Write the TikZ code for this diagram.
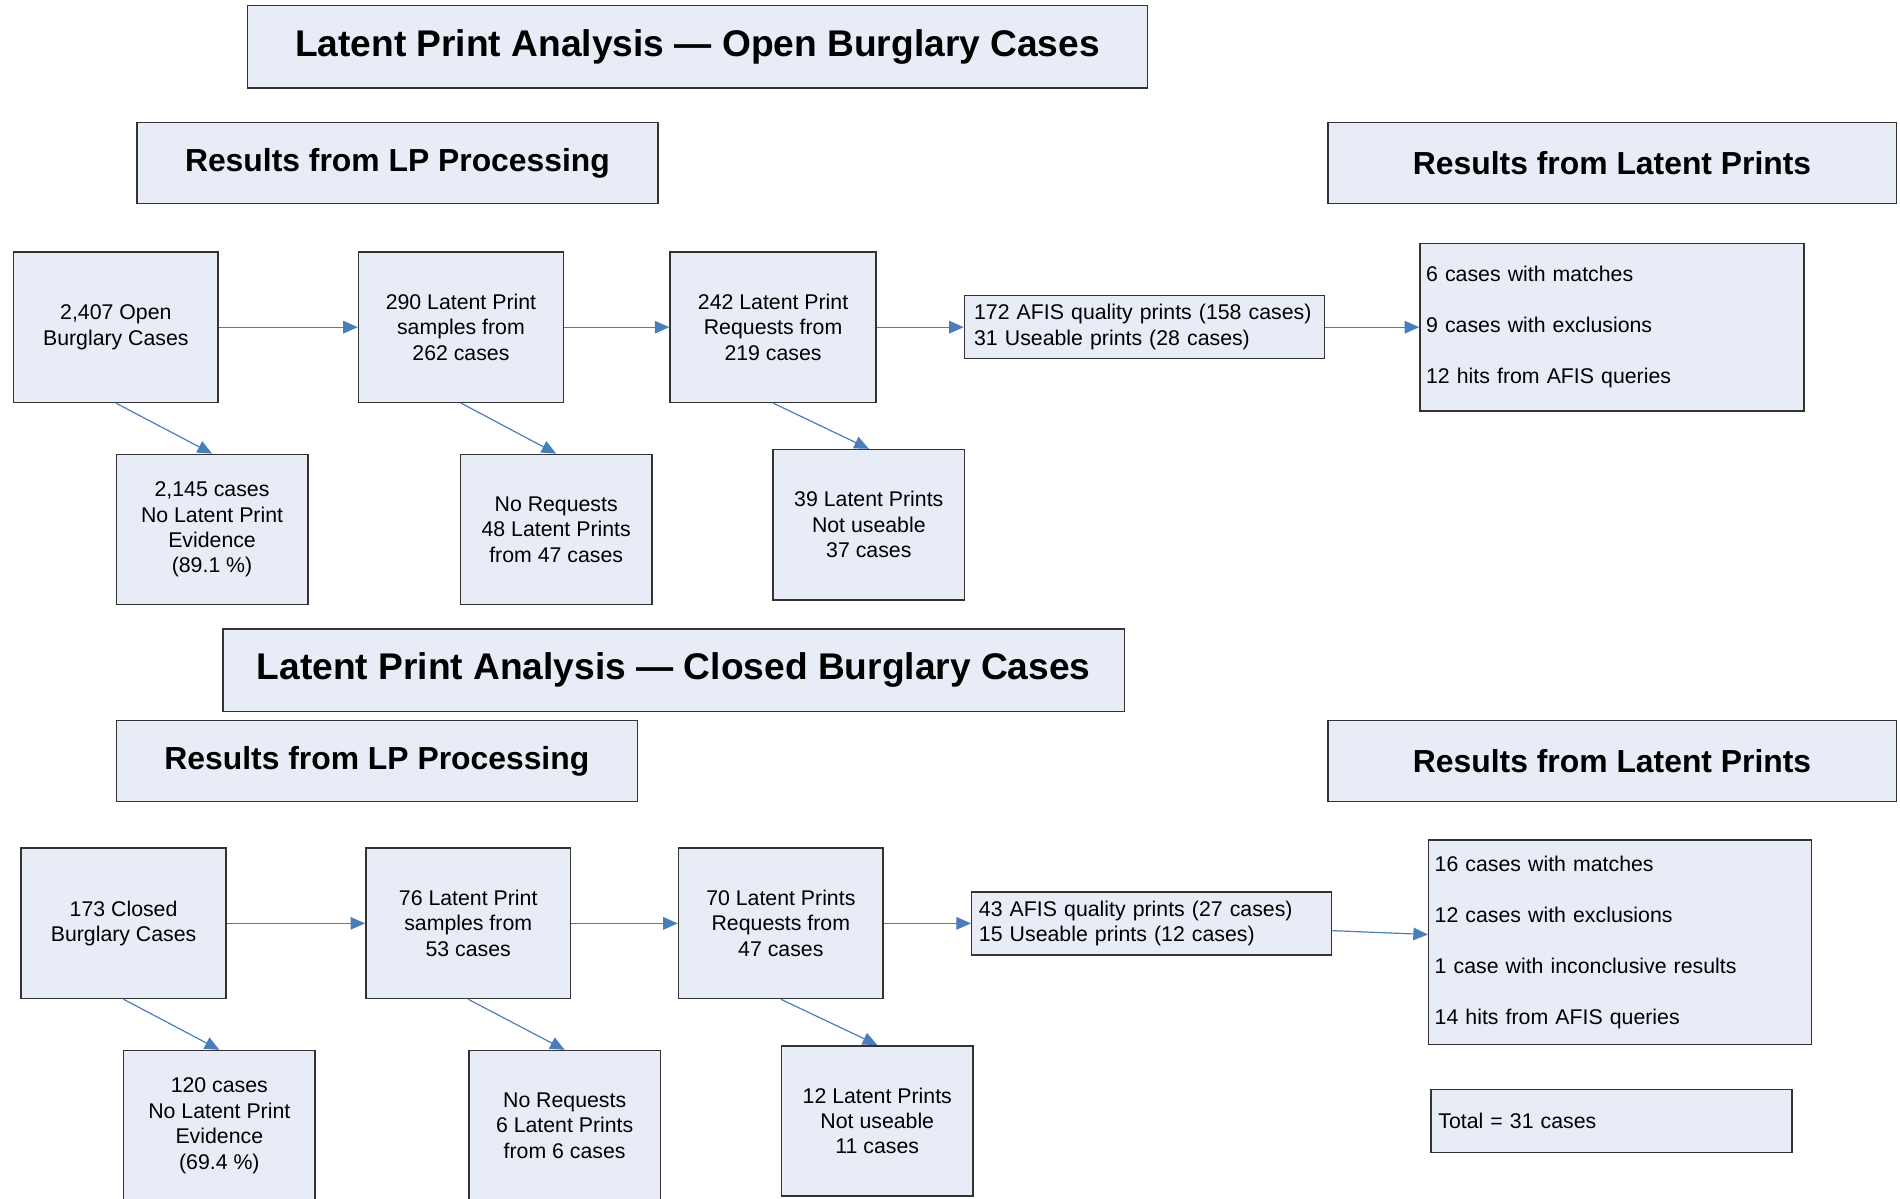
\documentclass[tikz,border=0pt]{standalone}
\usepackage{fontspec}
\setmainfont{Liberation Sans}
\usetikzlibrary{arrows.meta}
\definecolor{boxfill}{HTML}{E7ECF7}
\definecolor{flowblue}{HTML}{4A7EBB}
\definecolor{boxline}{HTML}{333333}

\begin{document}
\begin{tikzpicture}

    \tikzset{
        basebox/.style={draw=boxline, line width=0.9pt, fill=boxfill, inner sep=0pt},
        titlebox/.style={basebox, minimum height=1.7cm, font=\bfseries\fontsize{21.8}{26}\selectfont},
        headbox/.style={basebox, minimum height=1.675cm, font=\bfseries\fontsize{18.7}{22}\selectfont},
        stepbox/.style={basebox, minimum width=4.225cm, minimum height=3.1cm, align=center, font=\fontsize{12.5}{14.9}\selectfont},
        dropbox/.style={stepbox, minimum width=3.95cm},
        listbox/.style={basebox, align=left, inner xsep=0.15cm, font=\fontsize{12.5}{14.9}\selectfont},
        resultbox/.style={listbox, inner xsep=0.125cm, font=\fontsize{12.5}{29.9}\selectfont},
        flow/.style={draw=flowblue, line width=0.7pt, -{Triangle[length=0.3cm,width=0.26cm]}}
    }
    \useasboundingbox (0,0) rectangle (39.2,-24.725);

    % Open cases
    \node[titlebox, minimum width=18.575cm] (open) at (14.39,-0.96) {Latent Print Analysis — Open Burglary Cases};
    \node[headbox, minimum width=10.75cm] (lpopen) at (8.2,-3.36) {Results from LP Processing};
    \node[headbox, minimum width=11.725cm] (lateopen) at (33.26,-3.36) {Results from Latent Prints};

    \node[stepbox] (cases1) at (2.39,-6.75) {2,407 Open\\Burglary Cases};
    \node[stepbox] (samples1) at (9.51,-6.75) {290 Latent Print\\samples from\\262 cases};
    \node[stepbox, minimum width=4.25cm] (requests1) at (15.95,-6.75) {242 Latent Print\\Requests from\\219 cases};
    \node[listbox, inner xsep=0.2cm, text width=7.025cm, minimum height=1.3cm] (afis1) at (23.61,-6.75) {172 AFIS quality prints (158 cases)\\31 Useable prints (28 cases)};
    \node[resultbox, text width=7.675cm, minimum height=3.45cm] (results1) at (33.26,-6.75) {6 cases with matches\\9 cases with exclusions\\12 hits from AFIS queries};
    \node[dropbox] (noevid1) at (4.375,-10.925) {2,145 cases\\No Latent Print\\Evidence\\(89.1 \%)};
    \node[dropbox] (noreq1) at (11.475,-10.925) {No Requests\\48 Latent Prints\\from 47 cases};
    \node[dropbox] (unuse1) at (17.925,-10.825) {39 Latent Prints\\Not useable\\37 cases};

    \draw[flow] (cases1) -- (samples1);
    \draw[flow] (samples1) -- (requests1);
    \draw[flow] (requests1) -- (afis1);
    \draw[flow] (afis1) -- (results1);
    \draw[flow] (cases1.south) -- (noevid1.north);
    \draw[flow] (samples1.south) -- (noreq1.north);
    \draw[flow] (requests1.south) -- (unuse1.north);

    % Closed cases
    \node[titlebox, minimum width=18.6cm] (closed) at (13.9,-13.825) {Latent Print Analysis — Closed Burglary Cases};
    \node[headbox, minimum width=10.75cm] (lpclosed) at (7.775,-15.7) {Results from LP Processing};
    \node[headbox, minimum width=11.725cm] (lateclosed) at (33.26,-15.7) {Results from Latent Prints};

    \node[stepbox] (cases2) at (2.55,-19.05) {173 Closed\\Burglary Cases};
    \node[stepbox] (samples2) at (9.66,-19.05) {76 Latent Print\\samples from\\53 cases};
    \node[stepbox] (requests2) at (16.11,-19.05) {70 Latent Prints\\Requests from\\47 cases};
    \node[listbox, text width=7.125cm, minimum height=1.3cm] (afis2) at (23.76,-19.05) {43 AFIS quality prints (27 cases)\\15 Useable prints (12 cases)};
    \node[resultbox, text width=7.65cm, minimum height=4.225cm] (results2) at (33.425,-19.44) {16 cases with matches\\12 cases with exclusions\\1 case with inconclusive results\\14 hits from AFIS queries};
    \node[dropbox] (noevid2) at (4.525,-23.225) {120 cases\\No Latent Print\\Evidence\\(69.4 \%)};
    \node[dropbox] (noreq2) at (11.65,-23.225) {No Requests\\6 Latent Prints\\from 6 cases};
    \node[dropbox] (unuse2) at (18.1,-23.125) {12 Latent Prints\\Not useable\\11 cases};
    \node[listbox, text width=7.15cm, minimum height=1.3cm] (total) at (33.25,-23.125) {Total = 31 cases};

    \draw[flow] (cases2) -- (samples2);
    \draw[flow] (samples2) -- (requests2);
    \draw[flow] (requests2) -- (afis2);
    \draw[flow] (afis2) -- (results2);
    \draw[flow] (cases2.south) -- (noevid2.north);
    \draw[flow] (samples2.south) -- (noreq2.north);
    \draw[flow] (requests2.south) -- (unuse2.north);

\end{tikzpicture}
\end{document}
